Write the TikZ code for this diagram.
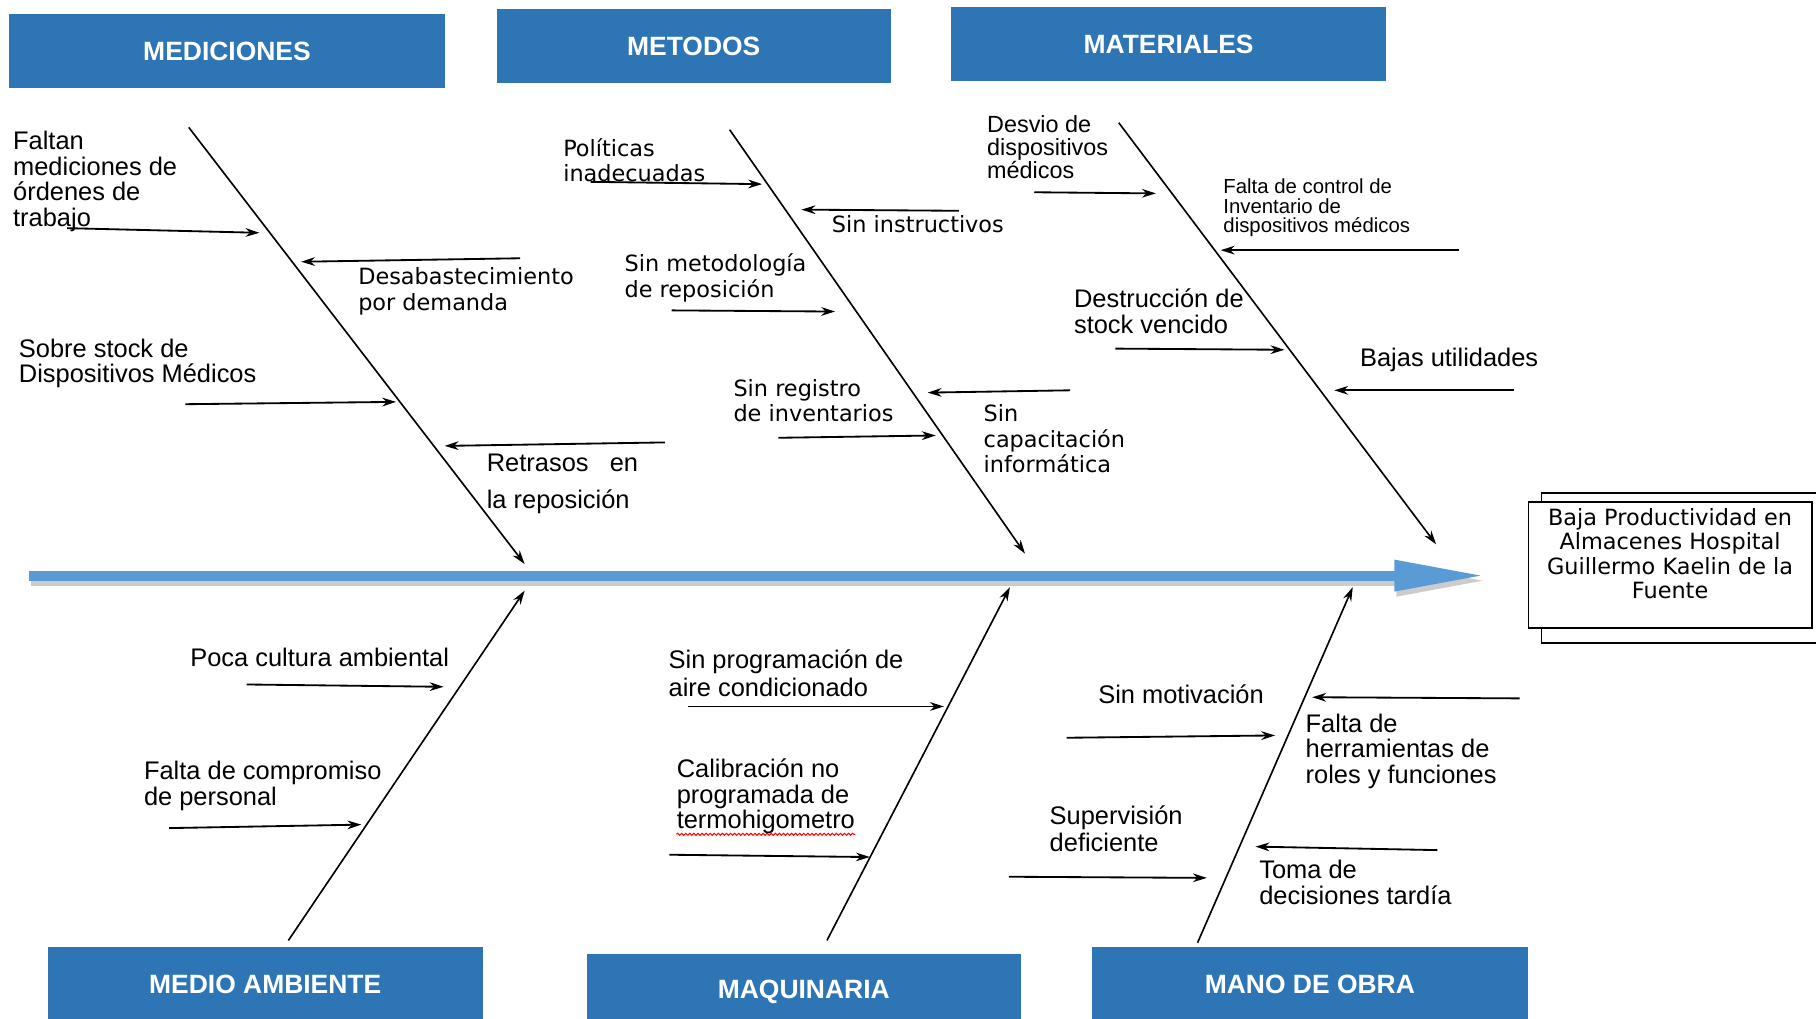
\documentclass[tikz,border=0pt]{standalone}
\usepackage{fontspec}
\setmainfont{Liberation Sans}
\newfontfamily\gothic{DejaVu Sans}
\usepackage{xcolor}
\usetikzlibrary{arrows.meta,calc,backgrounds,decorations.pathmorphing}
\definecolor{hdrblue}{RGB}{46,117,182}
\definecolor{spineblue}{RGB}{91,155,213}
\newcommand\fsz[2]{\fontsize{#1}{#2}\selectfont\lineskiplimit=-\maxdimen}

\begin{document}
\begin{tikzpicture}[x=0.02cm, y=-0.02cm, >={Stealth[length=2.4mm,width=1.5mm]},
  hdr/.style={fill=hdrblue, text=white, font=\bfseries\fsz{13}{15}, minimum height=1.28cm},
  lbl/.style={anchor=north west, inner sep=0pt, align=left, font=\fsz{12.5}{12.5}},
  glbl/.style={lbl, font=\gothic\fsz{11}{12.5}},
  bone/.style={->, line width=0.8pt},
  cause/.style={->, line width=0.9pt},
  spine/.style={-{Triangle[length=1.56cm,width=0.5cm]}, line width=0.17cm, spineblue},
  effbox/.style={draw, line width=0.9pt, fill=white, inner sep=3pt, font=\gothic\fsz{11}{12}}]
\useasboundingbox (0,0) rectangle (1568,879);

\node (MED) [hdr, minimum width=7.52cm] at (196,44) {MEDICIONES};
\node (MET) [hdr, minimum width=6.8cm] at (599,40) {METODOS};
\node (MAT) [hdr, minimum width=7.52cm] at (1009,38) {MATERIALES};
\node (MA) [hdr, minimum width=7.52cm] at (229,850) {MEDIO AMBIENTE};
\node (MAQ) [hdr, minimum width=7.5cm] at (694,856) {MAQUINARIA};
\node (MO) [hdr, minimum width=7.52cm] at (1131,850) {MANO DE OBRA};

\node (EF) [effbox] at (1442,488) {\begin{minipage}[t][1.96cm][t]{4.68cm}\centering
  Baja Productividad en\\ Almacenes Hospital\\ Guillermo Kaelin de la\\ Fuente\end{minipage}};
\begin{scope}[on background layer]
\draw[line width=0.9pt] ($(EF.north west)+(12,-7)$) rectangle ($(EF.south east)+(12,12)$);
\end{scope}

\coordinate (COLA) at (25,497);
\draw[spine, black!20, shorten >=0.74cm, transform canvas={xshift=1pt,yshift=-2.5pt}] (COLA) -- (COLA -| EF.west);
\draw[spine, shorten >=0.74cm] (COLA) -- (COLA -| EF.west);

\coordinate (MEDa) at (163,110); \coordinate (MEDb) at (453,487);
\coordinate (METa) at (630,112); \coordinate (METb) at (885,478);
\coordinate (MATa) at (966,106); \coordinate (MATb) at (1240,470);
\coordinate (MAa) at (249,812); \coordinate (MAb) at (453,510);
\coordinate (MAQa) at (714,812); \coordinate (MAQb) at (872,507);
\coordinate (MOa) at (1034,814); \coordinate (MOb) at (1168,507);
\draw[bone] (MEDa) -- (MEDb);
\draw[bone] (METa) -- (METb);
\draw[bone] (MATa) -- (MATb);
\draw[bone] (MAa) -- (MAb);
\draw[bone] (MAQa) -- (MAQb);
\draw[bone] (MOa) -- (MOb);

\node (FM) [lbl] at (11,113) {Faltan\\ mediciones de\\ órdenes de\\ trabajo};
\node (DD) [glbl] at (309,231) {Desabastecimiento\\ por demanda};
\node (SS) [lbl] at (16,292) {Sobre stock de\\ Dispositivos Médicos};
\node (RR) [lbl, font=\fsz{12.5}{18}] at (420,392) {Retrasos\ \ \ en\\ la reposición};
\node (PI) [glbl] at (486,119) {Políticas\\ inadecuadas};
\node (SI) [glbl] at (718,186) {Sin instructivos};
\node (SM) [glbl] at (539,219) {Sin metodología\\ de reposición};
\node (SR) [glbl] at (633,327) {Sin registro\\ de inventarios};
\node (SC) [glbl] at (849,349) {Sin\\ capacitación\\ informática};
\node (DM) [lbl, font=\fsz{11.5}{11.4}] at (852,99) {Desvio de\\ dispositivos\\ médicos};
\node (FC) [lbl, font=\fsz{10}{9.7}] at (1056,154) {Falta de control de\\ Inventario de\\ dispositivos médicos};
\node (DS) [lbl, font=\fsz{12.5}{13}] at (927,249) {Destrucción de\\ stock vencido};
\node (BU) [lbl] at (1174,300) {Bajas utilidades};
\node (PC) [lbl] at (164,559) {Poca cultura ambiental};
\node (FP) [lbl] at (124,657) {Falta de compromiso\\ de personal};
\node (SP) [lbl, font=\fsz{12.5}{13.5}] at (577,561) {Sin programación de\\ aire condicionado};
\node (CN) [lbl] at (584,655) {Calibración no\\ programada de\\ termohigometro};
\node (SV) [lbl] at (948,591) {Sin motivación};
\node (FH) [lbl] at (1127,616) {Falta de\\ herramientas de\\ roles y funciones};
\node (SD) [lbl, font=\fsz{12.5}{13.5}] at (906,695) {Supervisión\\ deficiente};
\node (TD) [lbl, font=\fsz{12.5}{13}] at (1087,742) {Toma de\\ decisiones tardía};
\draw[red, line width=0.5pt, decorate, decoration={snake, amplitude=0.5pt, segment length=2pt}] (CN.south west) -- (CN.south east);

\coordinate (FMa) at (58,197); \coordinate (FMb) at (224,201);
\coordinate (DDa) at (449,223); \coordinate (DDb) at (260,226);
\coordinate (SSa) at (160,349); \coordinate (SSb) at (342,347);
\coordinate (RRa) at (574,382); \coordinate (RRb) at (384,385);
\coordinate (PIa) at (510,157); \coordinate (PIb) at (658,159);
\coordinate (SIa) at (828,182); \coordinate (SIb) at (692,181);
\coordinate (SMa) at (580,268); \coordinate (SMb) at (721,269);
\coordinate (SRa) at (672,378); \coordinate (SRb) at (808,376);
\coordinate (SCa) at (924,337); \coordinate (SCb) at (801,339);
\coordinate (DMa) at (893,166); \coordinate (DMb) at (998,167);
\coordinate (FCa) at (1260,216); \coordinate (FCb) at (1054,216);
\coordinate (DSa) at (963,301); \coordinate (DSb) at (1109,302);
\coordinate (BUa) at (1307,337); \coordinate (BUb) at (1152,337);
\coordinate (PCa) at (213,591); \coordinate (PCb) at (383,593);
\coordinate (FPa) at (146,715); \coordinate (FPb) at (312,712);
\coordinate (SPa) at (594,610); \coordinate (SPb) at (815,610);
\coordinate (CNa) at (578,738); \coordinate (CNb) at (751,740);
\coordinate (SVa) at (921,637); \coordinate (SVb) at (1101,635);
\coordinate (FHa) at (1312,603); \coordinate (FHb) at (1133,602);
\coordinate (SDa) at (871,757); \coordinate (SDb) at (1042,758);
\coordinate (TDa) at (1241,734); \coordinate (TDb) at (1084,731);

\draw[cause] (FMa) -- (FMb);
\draw[cause] (DDa) -- (DDb);
\draw[cause] (SSa) -- (SSb);
\draw[cause] (RRa) -- (RRb);
\draw[cause] (PIa) -- (PIb);
\draw[cause] (SIa) -- (SIb);
\draw[cause] (SMa) -- (SMb);
\draw[cause] (SRa) -- (SRb);
\draw[cause] (SCa) -- (SCb);
\draw[cause] (DMa) -- (DMb);
\draw[cause] (FCa) -- (FCb);
\draw[cause] (DSa) -- (DSb);
\draw[cause] (BUa) -- (BUb);
\draw[cause] (PCa) -- (PCb);
\draw[cause] (FPa) -- (FPb);
\draw[cause] (SPa) -- (SPb);
\draw[cause] (CNa) -- (CNb);
\draw[cause] (SVa) -- (SVb);
\draw[cause] (FHa) -- (FHb);
\draw[cause] (SDa) -- (SDb);
\draw[cause] (TDa) -- (TDb);
\end{tikzpicture}
\end{document}
